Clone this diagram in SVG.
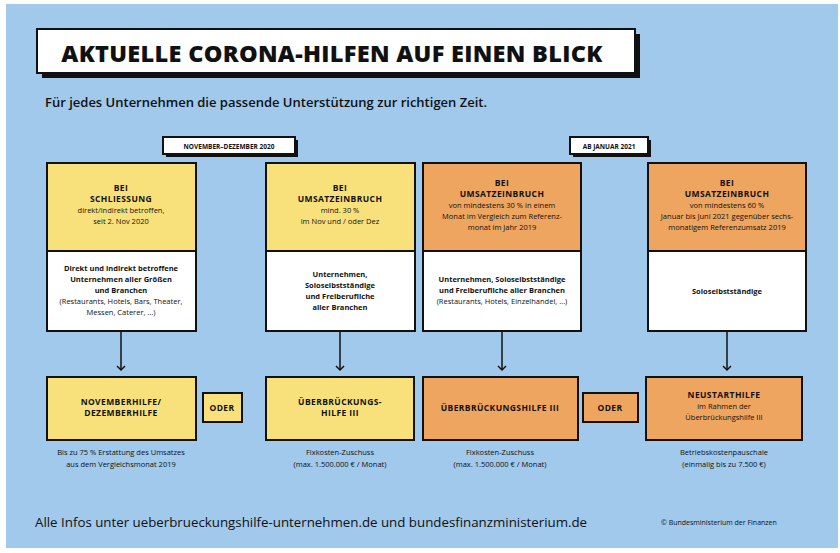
<svg xmlns="http://www.w3.org/2000/svg" width="840" height="553" viewBox="0 0 840 553">
<defs>
<style>
.b{stroke:#111;stroke-width:2}
.y{fill:#f8e17a}.o{fill:#eea560}.w{fill:#fff}
text{font-family:"Open Sans","Liberation Sans",sans-serif;fill:#111;text-anchor:middle}
.h{font-weight:bold;font-size:8.5px;letter-spacing:0.4px}
.s{font-size:7.5px}
.sb{font-size:7.5px;font-weight:bold}
.c{font-size:7.5px}
</style>
<marker id="ar" markerWidth="10" markerHeight="10" refX="5" refY="5" orient="auto" markerUnits="userSpaceOnUse"><path d="M1,1 L5,5 L1,9" fill="none" stroke="#111" stroke-width="1.5"/></marker>
</defs>
<rect x="0" y="0" width="840" height="553" fill="#fff"/>
<rect x="6" y="4" width="832" height="544" fill="#a0c9ec"/>
<g id="title">
<rect x="42" y="34" width="598" height="44" fill="#111"/>
<rect x="37" y="29" width="598" height="44" fill="#fff" class="b"/>
<text x="332" y="62" style="font-size:23.5px;font-weight:800;letter-spacing:0.3px">AKTUELLE CORONA-HILFEN AUF EINEN BLICK</text>
</g>
<text x="45" y="107" style="font-size:13px;font-weight:600;text-anchor:start">Für jedes Unternehmen die passende Unterstützung zur richtigen Zeit.</text>
<g id="lbl1"><rect x="166" y="140" width="132" height="17" fill="#111"/><rect x="163" y="137" width="132" height="17" fill="#fff" class="b"/><text x="229" y="149" style="font-size:6.5px;font-weight:bold">NOVEMBER–DEZEMBER 2020</text></g>
<g id="lbl2"><rect x="573" y="140" width="78" height="17" fill="#111"/><rect x="570" y="137" width="78" height="17" fill="#fff" class="b"/><text x="609" y="149" style="font-size:6.5px;font-weight:bold">AB JANUAR 2021</text></g>
<g id="card1"><rect x="47" y="163" width="149" height="88" class="b y"/><rect x="47" y="251" width="149" height="80" class="b w"/>
<text x="121" y="191" class="h">BEI</text><text x="121" y="202" class="h">SCHLIESSUNG</text><text x="121" y="213" class="s">direkt/indirekt betroffen,</text><text x="121" y="224" class="s">seit 2. Nov 2020</text>
<text x="121" y="271" class="sb">Direkt und indirekt betroffene</text><text x="121" y="282" class="sb">Unternehmen aller Größen</text><text x="121" y="293" class="sb">und Branchen</text><text x="121" y="304" class="s">(Restaurants, Hotels, Bars, Theater,</text><text x="121" y="315" class="s">Messen, Caterer, ...)</text></g>
<g id="card2"><rect x="266" y="163" width="149" height="88" class="b y"/><rect x="266" y="251" width="149" height="80" class="b w"/>
<text x="340" y="191" class="h">BEI</text><text x="340" y="202" class="h">UMSATZEINBRUCH</text><text x="340" y="213" class="s">mind. 30 %</text><text x="340" y="224" class="s">im Nov und / oder Dez</text>
<text x="340" y="277" class="sb">Unternehmen,</text><text x="340" y="288" class="sb">Soloselbstständige</text><text x="340" y="299" class="sb">und Freiberufliche</text><text x="340" y="310" class="sb">aller Branchen</text></g>
<g id="card3"><rect x="423" y="163" width="158" height="88" class="b o"/><rect x="423" y="251" width="158" height="80" class="b w"/>
<text x="502" y="186" class="h">BEI</text><text x="502" y="197" class="h">UMSATZEINBRUCH</text><text x="502" y="208" class="s">von mindestens 30 % in einem</text><text x="502" y="219" class="s">Monat im Vergleich zum Referenz-</text><text x="502" y="230" class="s">monat im Jahr 2019</text>
<text x="502" y="282" class="sb">Unternehmen, Soloselbstständige</text><text x="502" y="293" class="sb">und Freiberufliche aller Branchen</text><text x="502" y="304" class="s">(Restaurants, Hotels, Einzelhandel, ...)</text></g>
<g id="card4"><rect x="648" y="163" width="158" height="88" class="b o"/><rect x="648" y="251" width="158" height="80" class="b w"/>
<text x="727" y="186" class="h">BEI</text><text x="727" y="197" class="h">UMSATZEINBRUCH</text><text x="727" y="208" class="s">von mindestens 60 %</text><text x="727" y="219" class="s">Januar bis Juni 2021 gegenüber sechs-</text><text x="727" y="230" class="s">monatigem Referenzumsatz 2019</text>
<text x="727" y="294" class="sb">Soloselbstständige</text></g>
<g id="connectors" stroke="#111" stroke-width="1.5" marker-end="url(#ar)">
<line x1="121" y1="331" x2="121" y2="370"/><line x1="340" y1="331" x2="340" y2="370"/><line x1="502" y1="331" x2="502" y2="370"/><line x1="727" y1="331" x2="727" y2="370"/>
</g>
<g id="res1"><rect x="47" y="377" width="149" height="63" class="b y"/><text x="121" y="405" class="h">NOVEMBERHILFE/</text><text x="121" y="416" class="h">DEZEMBERHILFE</text></g>
<g id="oder1"><rect x="203" y="393" width="39" height="29" class="b y"/><text x="222" y="411" class="h">ODER</text></g>
<g id="res2"><rect x="266" y="377" width="148" height="63" class="b y"/><text x="340" y="405" class="h">ÜBERBRÜCKUNGS-</text><text x="340" y="416" class="h">HILFE III</text></g>
<g id="res3"><rect x="423" y="377" width="155" height="63" class="b o"/><text x="500" y="411" class="h">ÜBERBRÜCKUNGSHILFE III</text></g>
<g id="oder2"><rect x="583" y="393" width="55" height="29" class="b o"/><text x="610" y="411" class="h">ODER</text></g>
<g id="res4"><rect x="646" y="377" width="156" height="63" class="b o"/><text x="724" y="398" class="h">NEUSTARTHILFE</text><text x="724" y="409" class="s">im Rahmen der</text><text x="724" y="420" class="s">Überbrückungshilfe III</text></g>
<text x="121" y="455" class="c">Bis zu 75 % Erstattung des Umsatzes</text><text x="121" y="467" class="c">aus dem Vergleichsmonat 2019</text>
<text x="340" y="455" class="c">Fixkosten-Zuschuss</text><text x="340" y="467" class="c">(max. 1.500.000 € / Monat)</text>
<text x="500" y="455" class="c">Fixkosten-Zuschuss</text><text x="500" y="467" class="c">(max. 1.500.000 € / Monat)</text>
<text x="724" y="455" class="c">Betriebskostenpauschale</text><text x="724" y="467" class="c">(einmalig bis zu 7.500 €)</text>
<text x="35" y="527" style="font-size:13.3px;font-weight:500;text-anchor:start">Alle Infos unter ueberbrueckungshilfe-unternehmen.de und bundesfinanzministerium.de</text>
<text x="661" y="525" style="font-size:7px;text-anchor:start">© Bundesministerium der Finanzen</text>
</svg>
